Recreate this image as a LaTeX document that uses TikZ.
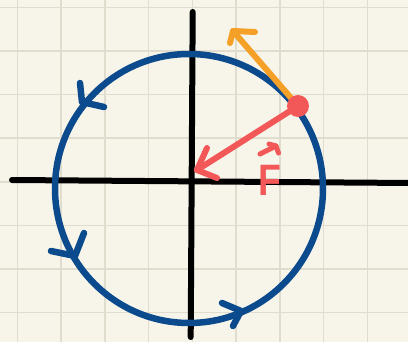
\documentclass[tikz,border=0pt]{standalone}
\usepackage{fontspec}
\setsansfont{Liberation Sans}
\definecolor{bgc}{HTML}{F7F5EA}
\definecolor{gridc}{HTML}{E0DDCF}
\definecolor{bluec}{HTML}{0B4A8C}
\definecolor{redc}{HTML}{F25858}
\definecolor{orangec}{HTML}{F5A027}
\tikzset{
  gridline/.style={draw=gridc, line width=1.6pt},
  axis/.style={draw=black, line width=6pt, line cap=round},
  orbit/.style={draw=bluec, line width=6.5pt, line cap=round, line join=round},
  force/.style={draw=redc, line width=6pt, line cap=round, line join=round},
  vel/.style={draw=orangec, line width=6pt, line cap=round, line join=round},
}
\begin{document}
\begin{tikzpicture}[x=1pt,y=-1pt]
\fill[bgc] (0,0) rectangle (408,342);
\useasboundingbox (0,0) rectangle (408,342);
\foreach \i in {0,...,8} \draw[gridline] ({17.4+43.75*\i},0) -- ({17.4+43.75*\i},342);
\foreach \j in {0,...,7} \draw[gridline] (0,{7.4+43.6*\j}) -- (408,{7.4+43.6*\j});
% axes
\coordinate (yt) at (192.7,12);
\coordinate (yb) at (190.7,337);
\coordinate (xl) at (12,180);
\coordinate (xr) at (410,183);
\draw[axis] (yt) -- (yb);
\draw[axis] (xl) -- (xr);
% orbit
\coordinate (O) at (189,188.5);
\draw[orbit] (O) ellipse [x radius=134, y radius=134.5];
% orbit arrowheads
\coordinate (b1a) at (80,83); \coordinate (b1t) at (82,102); \coordinate (b1b) at (104,107);
\coordinate (b2a) at (84,233); \coordinate (b2t) at (75,256); \coordinate (b2b) at (51,251);
\coordinate (b3a) at (222,303); \coordinate (b3t) at (241,311); \coordinate (b3b) at (233,326);
\draw[orbit] (b1a) -- (b1t) -- (b1b);
\draw[orbit] (b2a) -- (b2t) -- (b2b);
\draw[orbit] (b3a) -- (b3t) -- (b3b);
% velocity (orange)
\coordinate (P) at (298,106);
\coordinate (vt) at (233,31);
\coordinate (va) at (230,43);
\coordinate (vb) at (255,32);
\draw[vel] (P) -- (vt);
\draw[vel] (va) -- (vt) -- (vb);
% force (red)
\coordinate (ft) at (197,170);
\coordinate (fa) at (207,148);
\coordinate (fb) at (217,178);
\draw[force] (P) -- (ft);
\draw[force] (fa) -- (ft) -- (fb);
\node[circle, fill=redc, inner sep=0pt, minimum size=22pt] (dot) at (P) {};
% label F with vector arrow
\node[text=redc, font=\sffamily\bfseries\fontsize{44}{44}\selectfont, inner sep=0pt, xscale=0.85] (F) at (269.5,180) {F};
\coordinate (arL) at (260,154);
\coordinate (arR) at (276,146);
\coordinate (arA) at (269,144);
\coordinate (arB) at (278.5,153);
\draw[force, line width=5pt] (arL) -- (arR);
\draw[force, line width=5pt] (arA) -- (arR) -- (arB);
\end{tikzpicture}
\end{document}
